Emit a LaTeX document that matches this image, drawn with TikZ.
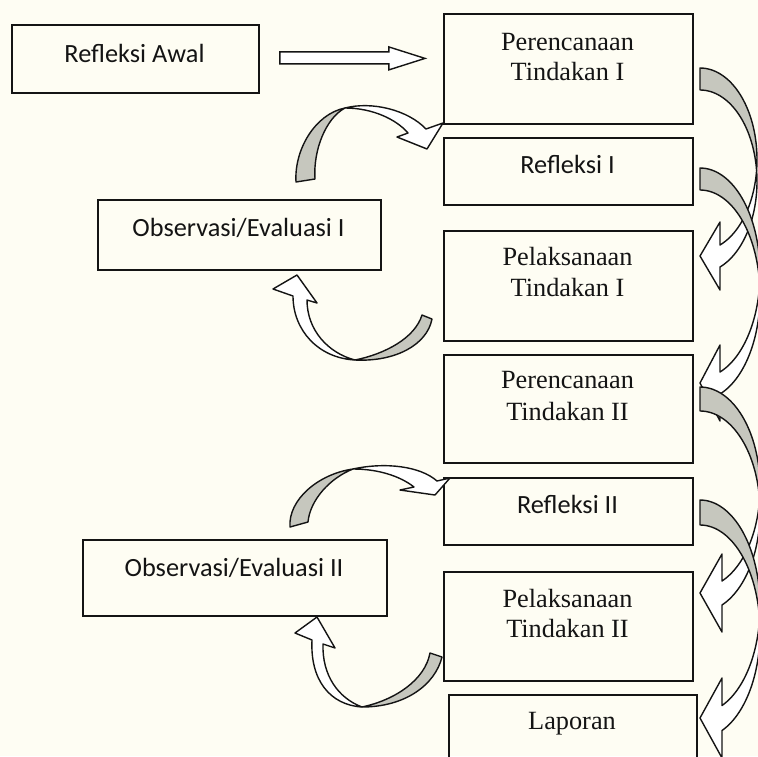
\documentclass[tikz,border=0pt]{standalone}
\usepackage{fontspec}
\setmainfont{Liberation Serif}
\newfontfamily\calibrifont{Carlito}
\usetikzlibrary{calc}
\definecolor{bgcream}{RGB}{254,253,243}
\definecolor{arrgray}{RGB}{198,199,190}
\definecolor{inkline}{RGB}{20,20,20}
\tikzset{
 box/.style={draw=inkline, line width=1.8pt, inner sep=0pt, anchor=north west},
 sertext/.style={font=\fontsize{26.3}{30}\selectfont, anchor=base, inner sep=0pt, text=inkline},
 caltext/.style={font=\calibrifont\fontsize{26.3}{30}\selectfont, anchor=base, inner sep=0pt, text=inkline},
 arrback/.style={fill=arrgray, draw=inkline, line width=1.4pt, line join=round},
 arrfront/.style={fill=white, draw=inkline, line width=1.4pt, line join=round},
 blockarrow/.style={fill=white, draw=inkline, line width=1.4pt, line join=miter},
}
% curved arrow bulging to the right: tail top (#1,#2), tip at depth #3,
% x radius #4, band thickness #5, head length #6, head half width #7
\newcommand\rcurve[7]{%
 \pgfmathsetmacro\crvsh{sqrt(1-(#6/#4)^2)}%
 \pgfmathsetmacro\crvry{(#3-#5/2)/(1+\crvsh)}%
 \pgfmathsetmacro\crvpi{asin(#5/(2*\crvry))}%
 \pgfmathsetmacro\crvph{acos(#6/#4)}%
 \begin{scope}[shift={(#1,#2)}]
  \filldraw[arrback] plot[domain=-90:\crvpi,samples=40,variable=\t] ({#4*cos(\t)},{\crvry+\crvry*sin(\t)})
    -- plot[domain=-\crvpi:-90,samples=40,variable=\t] ({#4*cos(\t)},{#5+\crvry+\crvry*sin(\t)}) -- cycle;
  \filldraw[arrfront] plot[domain=-\crvpi:\crvph,samples=40,variable=\t] ({#4*cos(\t)},{#5+\crvry+\crvry*sin(\t)})
    -- (#6,#3+#7) -- (0,#3) -- (#6,#3-#7)
    -- plot[domain=\crvph:\crvpi,samples=40,variable=\t] ({#4*cos(\t)},{\crvry+\crvry*sin(\t)}) -- cycle;
 \end{scope}}
\begin{document}
\begin{tikzpicture}[x=1pt,y=-1pt]
\useasboundingbox (0,0) rectangle (758,756);
\fill[bgcream] (0,0) rectangle (758,756);

% boxes
\node[box, minimum width=247pt, minimum height=68pt]  (ra)  at (11,24)  {};
\node[box, minimum width=249pt, minimum height=110pt] (p1)  at (443,13) {};
\node[box, minimum width=249pt, minimum height=67pt]  (r1)  at (443,137) {};
\node[box, minimum width=249pt, minimum height=110pt] (x1)  at (443,230) {};
\node[box, minimum width=249pt, minimum height=108pt] (p2)  at (443,354) {};
\node[box, minimum width=249pt, minimum height=67pt]  (r2)  at (443,477) {};
\node[box, minimum width=249pt, minimum height=109pt] (x2)  at (443,571) {};
\node[box, minimum width=248pt, minimum height=80pt]  (lap) at (448,694) {};
\node[box, minimum width=283pt, minimum height=70pt]  (o1)  at (97,199) {};
\node[box, minimum width=304pt, minimum height=76pt]  (o2)  at (82,539) {};

% texts
\node[caltext] (tra)  at (134.5,62) {Refleksi Awal};
\node[sertext] (tp1a) at (567.5,50) {Perencanaan};
\node[sertext] (tp1b) at (567.5,80) {Tindakan I};
\node[caltext] (tr1)  at (567.5,173) {Refleksi I};
\node[sertext] (tx1a) at (567.5,265) {Pelaksanaan};
\node[sertext] (tx1b) at (567.5,296) {Tindakan I};
\node[sertext] (tp2a) at (567.5,388) {Perencanaan};
\node[sertext] (tp2b) at (567.5,420) {Tindakan II};
\node[caltext] (tr2)  at (567.5,513) {Refleksi II};
\node[sertext] (tx2a) at (567.5,607) {Pelaksanaan};
\node[sertext] (tx2b) at (567.5,637) {Tindakan II};
\node[sertext] (tlap) at (572,729) {Laporan};
\node[caltext] (to1)  at (238.5,236) {Observasi/Evaluasi I};
\node[caltext] (to2)  at (234,576) {Observasi/Evaluasi II};

% block arrow Refleksi Awal -> Perencanaan Tindakan I
\draw[blockarrow] ($(ra.east)+(20,-7)$) -- ($(ra.east)+(129,-7)$) -- ($(ra.east)+(129,-12)$)
  -- ($(p1.west)+(-18,-10.5)$) -- ($(ra.east)+(129,11)$) -- ($(ra.east)+(129,5)$)
  -- ($(ra.east)+(20,5)$) -- cycle;

% left curved arrows
% Observasi I -> Refleksi I
\filldraw[arrback] (296,182) .. controls (294,150) and (315,114) .. (345,108)
  .. controls (326,118) and (313,150) .. (315,179) -- cycle;
\filldraw[arrfront] (345,108) .. controls (372,101) and (408,110) .. (426,129)
  -- (443,123) -- (427,149) -- (397,137) -- (408,133)
  .. controls (396,119) and (372,108) .. (345,108) -- cycle;
% Pelaksanaan I -> Observasi I
\filldraw[arrback] (432,319) .. controls (427,345) and (395,362) .. (355,360)
  .. controls (385,354) and (415,338) .. (422,315) -- cycle;
\filldraw[arrfront] (355,360) .. controls (318,358) and (293,330) .. (293,296)
  -- (273,289) -- (297,275) -- (317,303) -- (307,300)
  .. controls (307,330) and (328,353) .. (355,360) -- cycle;
% Observasi II -> Refleksi II
\filldraw[arrback] (290,527) .. controls (288,500) and (318,474) .. (353,469)
  .. controls (330,478) and (310,500) .. (308,522) -- cycle;
\filldraw[arrfront] (353,469) .. controls (385,462) and (420,466) .. (437,481)
  -- (450,478) -- (435,495) -- (400,490) -- (414,487)
  .. controls (400,476) and (378,469) .. (353,469) -- cycle;
% Pelaksanaan II -> Observasi II
\filldraw[arrback] (442,657) .. controls (435,685) and (405,707) .. (362,707)
  .. controls (395,700) and (425,680) .. (430,653) -- cycle;
\filldraw[arrfront] (362,707) .. controls (330,705) and (310,680) .. (312,640)
  -- (295,633) -- (317,617) -- (335,648) -- (323,644)
  .. controls (322,675) and (338,698) .. (362,707) -- cycle;

% right curved arrows
\rcurve{700}{68}{188}{57}{22}{20}{34}
\rcurve{700}{168}{215}{60}{22}{20}{38}
\rcurve{700}{387}{206}{60}{24}{22}{39}
\rcurve{700}{500}{218}{60}{25}{22}{40}
\end{tikzpicture}
\end{document}
